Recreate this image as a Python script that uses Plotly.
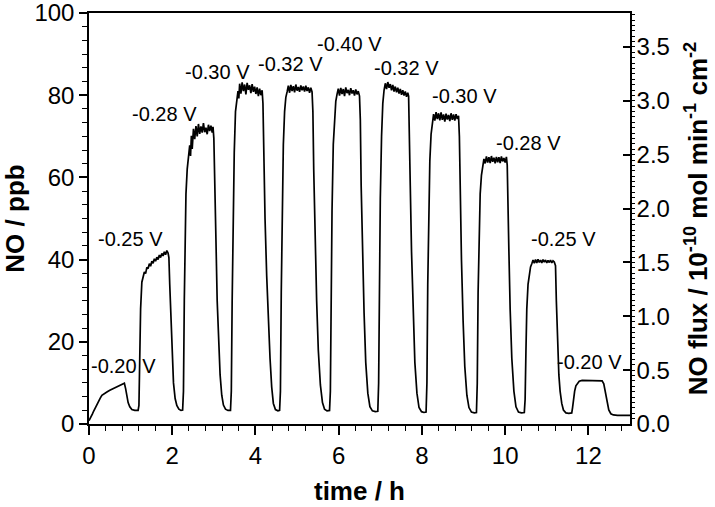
import plotly.graph_objects as go

# ---- data (time in h, NO in ppb) ----
seg_020a = [(0.00,0.8),(0.04,1.5),(0.08,2.4),(0.11,3.1),(0.15,4.0),(0.19,4.8),(0.23,5.5),(0.27,6.3),(0.31,7.0),(0.36,7.4),(0.43,7.8),(0.50,8.2),(0.58,8.6),(0.66,9.0),(0.74,9.4),(0.82,9.8),(0.85,9.9),(0.88,8.6),(0.91,6.8),(0.94,5.2),(0.98,4.2),(1.03,3.5),(1.10,3.3),(1.18,3.3)]
seg_025a = [(1.20,4.5),(1.22,18),(1.24,28),(1.27,34.5),(1.30,36.2),(1.33,37.0),(1.36,36.6),(1.39,38.1),(1.42,37.8),(1.45,39.0),(1.48,38.4),(1.51,39.6),(1.54,39.1),(1.57,40.2),(1.60,39.6),(1.63,40.6),(1.66,40.0),(1.69,41.1),(1.72,40.5),(1.75,41.5),(1.78,40.9),(1.81,41.9),(1.84,41.2),(1.87,42.2),(1.90,41.6),(1.92,40.5),(1.94,34),(1.97,24),(2.00,16),(2.03,10),(2.07,6.2),(2.11,4.5),(2.16,3.6),(2.21,3.3),(2.25,3.4)]
seg_028a = [(2.27,8),(2.29,30),(2.31,48),(2.33,56),(2.36,62),(2.39,65.5),(2.42,67.8),(2.44,65.2),(2.46,70.1),(2.48,66.9),(2.51,71.8),(2.54,69.3),(2.57,72.5),(2.60,70.0),(2.63,73.0),(2.66,70.6),(2.69,72.4),(2.72,70.9),(2.75,73.2),(2.78,71.0),(2.81,72.1),(2.84,70.5),(2.87,72.8),(2.90,71.3),(2.93,72.6),(2.96,70.9),(2.98,72.3),(3.00,69.5),(3.02,62),(3.05,45),(3.08,30),(3.11,20),(3.15,12),(3.19,7),(3.23,4.6),(3.28,3.6),(3.34,3.3),(3.40,3.3)]
seg_030a = [(3.42,8),(3.44,30),(3.46,48),(3.49,66),(3.52,76),(3.55,79.5),(3.58,81.0),(3.60,79.2),(3.62,82.8),(3.65,80.4),(3.68,83.1),(3.71,81.0),(3.74,82.6),(3.77,80.2),(3.80,83.0),(3.83,81.3),(3.86,82.4),(3.89,80.5),(3.92,82.7),(3.95,80.8),(3.98,82.1),(4.01,80.3),(4.04,81.9),(4.07,79.8),(4.10,81.6),(4.13,80.0),(4.16,81.2),(4.18,78),(4.20,62),(4.23,50),(4.27,36),(4.31,24),(4.35,16),(4.39,9),(4.43,5),(4.48,3.5),(4.54,3.2),(4.58,3.3)]
seg_032a = [(4.60,8),(4.62,32),(4.64,52),(4.67,68),(4.70,76),(4.73,79.5),(4.76,80.8),(4.79,82.3),(4.82,80.6),(4.85,82.5),(4.88,81.0),(4.91,82.2),(4.94,80.7),(4.97,82.6),(5.00,81.1),(5.03,82.0),(5.06,80.8),(5.09,82.4),(5.12,81.2),(5.15,82.1),(5.18,80.9),(5.21,82.3),(5.24,81.0),(5.27,81.9),(5.30,80.6),(5.33,81.8),(5.36,80.8),(5.38,76),(5.40,62),(5.43,46),(5.47,30),(5.51,18),(5.56,9.5),(5.61,5.2),(5.66,3.6),(5.72,3.2),(5.78,3.3)]
seg_040 = [(5.80,8),(5.82,32),(5.84,52),(5.87,68),(5.90,75),(5.93,78.5),(5.96,80.2),(5.99,81.6),(6.02,79.9),(6.05,81.8),(6.08,80.3),(6.11,81.5),(6.14,79.8),(6.17,81.9),(6.20,80.5),(6.23,81.3),(6.26,80.0),(6.29,81.7),(6.32,80.4),(6.35,81.2),(6.38,79.9),(6.41,81.4),(6.44,80.2),(6.47,81.0),(6.50,79.8),(6.52,74),(6.54,58),(6.57,42),(6.61,27),(6.65,15),(6.70,7.5),(6.75,4.2),(6.81,3.2),(6.88,3.0),(6.94,3.1)]
seg_032b = [(6.96,10),(6.98,35),(7.00,55),(7.03,70),(7.06,78),(7.09,81.2),(7.12,82.9),(7.15,81.5),(7.18,83.2),(7.21,81.8),(7.24,82.7),(7.27,81.2),(7.30,82.5),(7.33,80.9),(7.36,82.1),(7.39,80.7),(7.42,81.8),(7.45,80.4),(7.48,81.5),(7.51,80.1),(7.54,81.2),(7.57,79.9),(7.60,80.9),(7.63,79.6),(7.66,80.6),(7.68,79.8),(7.70,72),(7.72,58),(7.75,42),(7.79,27),(7.83,15),(7.88,7.5),(7.93,4.0),(7.99,3.0),(8.05,2.8),(8.10,2.9)]
seg_030b = [(8.12,10),(8.14,34),(8.16,52),(8.19,64),(8.22,70.5),(8.25,73.5),(8.28,75.4),(8.31,73.8),(8.34,75.9),(8.37,74.2),(8.40,75.6),(8.43,73.9),(8.46,75.8),(8.49,74.0),(8.52,75.3),(8.55,73.6),(8.58,75.5),(8.61,74.1),(8.64,75.2),(8.67,73.7),(8.70,75.6),(8.73,74.0),(8.76,75.3),(8.79,73.8),(8.82,75.4),(8.85,74.2),(8.88,75.0),(8.90,70),(8.92,56),(8.95,40),(8.99,25),(9.03,14),(9.08,7),(9.13,4.0),(9.19,2.9),(9.26,2.7),(9.31,2.8)]
seg_028b = [(9.33,10),(9.35,32),(9.37,46),(9.40,56),(9.43,60.5),(9.46,62.8),(9.49,64.5),(9.52,63.4),(9.55,65.1),(9.58,63.6),(9.61,64.9),(9.64,63.5),(9.67,65.2),(9.70,63.8),(9.73,64.8),(9.76,63.4),(9.79,65.0),(9.82,63.7),(9.85,64.9),(9.88,63.5),(9.91,65.1),(9.94,63.9),(9.97,64.7),(10.00,63.6),(10.03,65.0),(10.05,63),(10.07,55),(10.09,42),(10.12,28),(10.16,16),(10.21,8),(10.26,4.2),(10.32,2.9),(10.39,2.7),(10.46,2.8)]
seg_025b = [(10.48,6),(10.50,18),(10.52,28),(10.55,34),(10.58,36.8),(10.61,38.2),(10.64,39.0),(10.67,39.9),(10.70,39.1),(10.73,40.0),(10.76,39.2),(10.79,40.1),(10.82,39.3),(10.85,39.9),(10.88,39.2),(10.91,40.0),(10.94,39.4),(10.97,39.9),(11.00,39.2),(11.03,39.8),(11.06,39.3),(11.09,39.9),(11.12,39.2),(11.15,39.7),(11.18,39.4),(11.21,38.5),(11.23,30),(11.26,19),(11.29,12),(11.32,8),(11.36,5),(11.40,3.4),(11.46,2.7),(11.53,2.6),(11.60,2.7)]
seg_020b = [(11.62,4.0),(11.64,6.0),(11.67,8.0),(11.70,9.3),(11.74,10.0),(11.78,10.4),(11.85,10.6),(11.95,10.6),(12.05,10.6),(12.15,10.6),(12.25,10.5),(12.33,10.5),(12.37,9.8),(12.41,7.5),(12.45,5.0),(12.49,3.4),(12.54,2.5),(12.60,2.2),(12.70,2.1),(12.85,2.1),(13.00,2.1)]

segments = [seg_020a, seg_025a, seg_028a, seg_030a, seg_032a, seg_040,
            seg_032b, seg_030b, seg_028b, seg_025b, seg_020b]

# voltage labels: text, time position, NO position
label_text = ["-0.20 V", "-0.25 V", "-0.28 V", "-0.30 V", "-0.32 V", "-0.40 V",
              "-0.32 V", "-0.30 V", "-0.28 V", "-0.25 V", "-0.20 V"]
label_t = [0.84, 1.00, 1.81, 3.08, 4.83, 6.26, 7.64, 9.03, 10.56, 11.40, 12.03]
label_no = [14.0, 45.1, 75.5, 85.7, 87.6, 92.5, 86.7, 79.9, 68.4, 45.1, 15.0]

# conversion between the two axes: 100 ppb <-> 3.815 (1e-10 mol min-1 cm-2)
FLUX_PER_PPB = 0.03815

time_h = [p[0] for s in segments for p in s]
no_ppb = [p[1] for s in segments for p in s]
flux = [v * FLUX_PER_PPB for v in no_ppb]

FONT = "Arial, 'Liberation Sans', sans-serif"

fig = go.Figure()
fig.add_trace(go.Scatter(x=time_h, y=no_ppb, mode="lines",
                         line=dict(color="black", width=1.7),
                         showlegend=False, hoverinfo="skip"))
fig.add_trace(go.Scatter(x=time_h, y=flux, mode="lines", yaxis="y2",
                         line=dict(color="rgba(0,0,0,0)", width=0),
                         showlegend=False, hoverinfo="skip"))

for txt, t, v in zip(label_text, label_t, label_no):
    fig.add_annotation(x=t, y=v, text=txt, showarrow=False,
                       xanchor="center", yanchor="middle",
                       font=dict(family=FONT, size=20, color="black"))

axis_common = dict(showgrid=False, zeroline=False, showline=True,
                   linecolor="black", linewidth=1.5,
                   tickcolor="black", tickwidth=1.5,
                   ticklabeloverflow="allow",
                   tickfont=dict(family=FONT, size=24, color="black"))

fig.update_layout(
    width=715, height=507,
    margin=dict(l=89, r=85, t=13, b=83, autoexpand=False),
    paper_bgcolor="white", plot_bgcolor="white",
    xaxis=dict(range=[0, 13], dtick=2, tick0=0, ticks="outside", ticklen=9,
               mirror=True,
               minor=dict(dtick=0.4, ticks="outside", ticklen=5,
                          tickcolor="black", tickwidth=1.2),
               title=dict(text="time / h", standoff=14,
                          font=dict(family=FONT, size=26, color="black", weight="bold")),
               **axis_common),
    yaxis=dict(range=[0, 100], dtick=20, tick0=0, ticks="outside", ticklen=8,
               minor=dict(dtick=20/6, ticks="outside", ticklen=5,
                          tickcolor="black", tickwidth=1.2),
               title=dict(text="NO / ppb", standoff=10,
                          font=dict(family=FONT, size=26, color="black", weight="bold")),
               **axis_common),
    yaxis2=dict(range=[0, 100 * FLUX_PER_PPB], dtick=0.5, tick0=0, tickformat=".1f",
                overlaying="y", side="right", ticks="inside", ticklen=7,
                minor=dict(dtick=0.05, ticks="outside", ticklen=3,
                           tickcolor="black", tickwidth=1),
                title=dict(text="NO flux / 10<sup>-10</sup> mol min<sup>-1</sup> cm<sup>-2</sup>",
                           standoff=20,
                           font=dict(family=FONT, size=26, color="black", weight="bold")),
                **axis_common),
)

fig.write_html("out.html", config={"displayModeBar": False},
               post_script="document.body.style.margin='0';document.body.style.overflow='hidden';")
